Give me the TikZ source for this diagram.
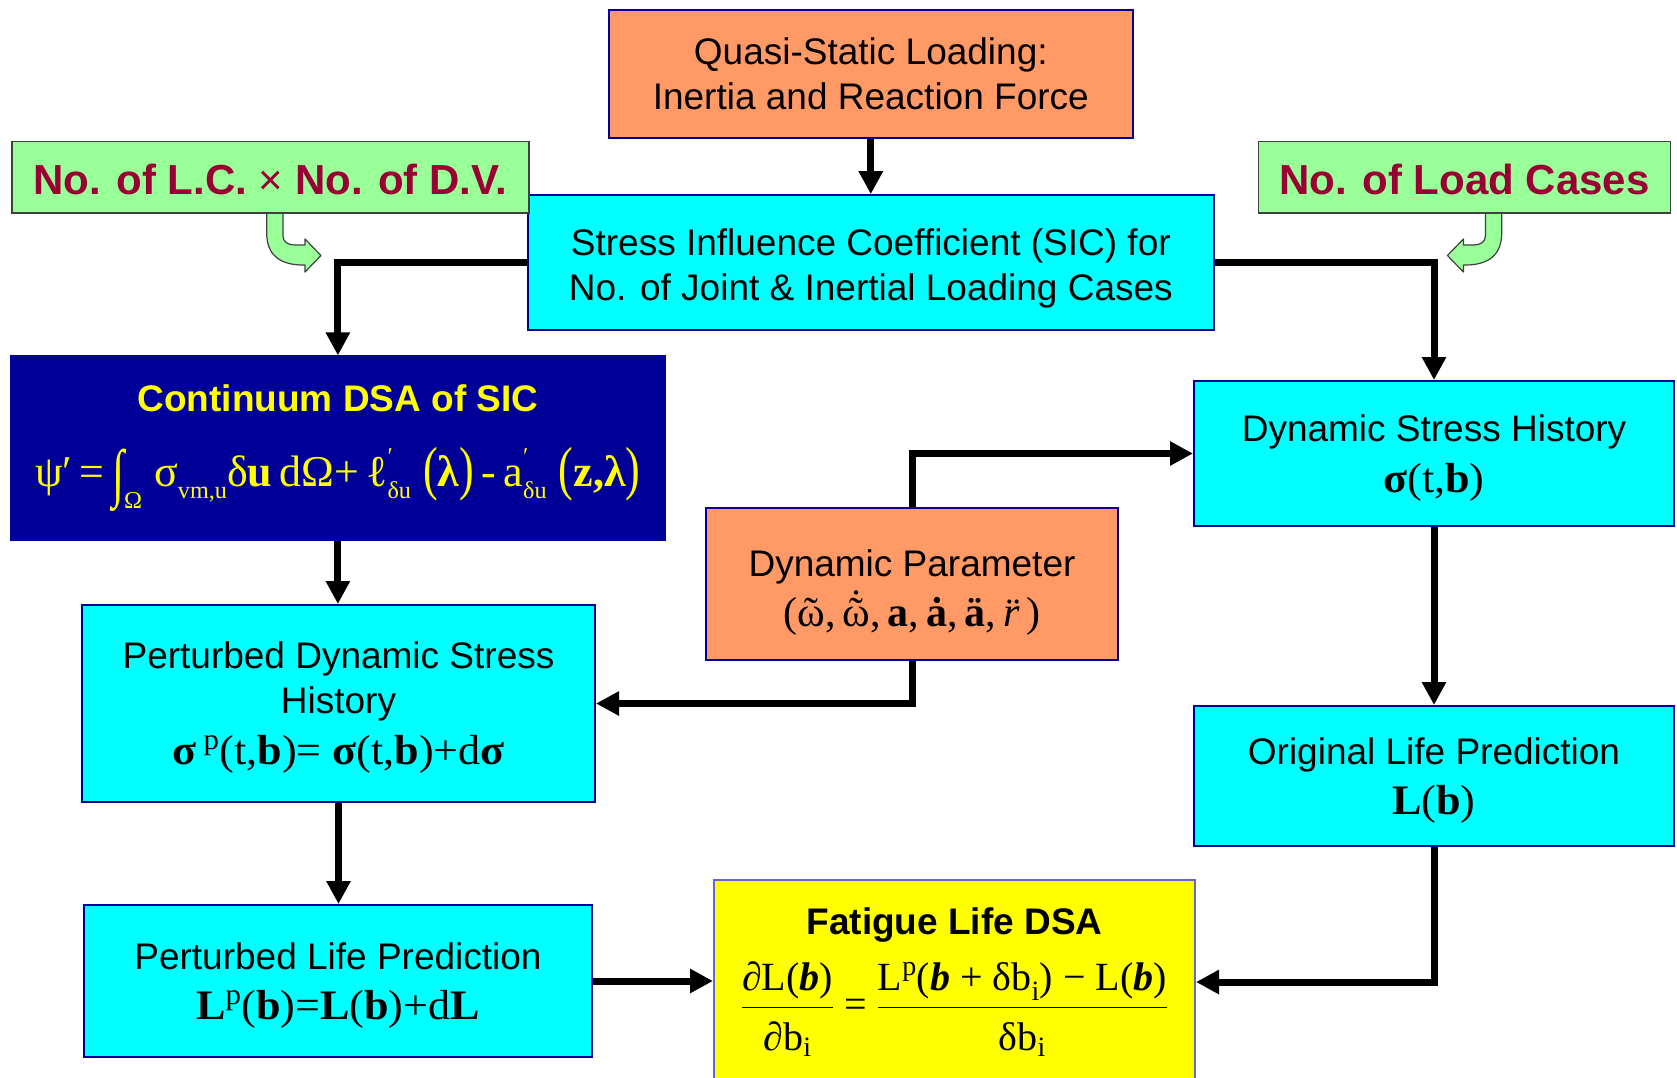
\documentclass[tikz,border=0pt]{standalone}
\usepackage{fix-cm}
\usepackage{amsmath}
\usepackage{graphicx}
\usepackage{fontspec}
\setmainfont{Liberation Serif}
\setsansfont{Liberation Sans}
\usetikzlibrary{arrows.meta}
\definecolor{orangeF}{HTML}{FF9966}
\definecolor{cyanF}{HTML}{00FFFF}
\definecolor{navyF}{HTML}{000099}
\definecolor{greenF}{HTML}{99FF99}
\definecolor{redT}{HTML}{990033}
\definecolor{yellowF}{HTML}{FFFF00}
\definecolor{borderB}{HTML}{000099}
\definecolor{borderL}{HTML}{6666CC}
\definecolor{grayE}{HTML}{404040}
\newcommand\fmA{\rmfamily\mdseries\fontsize{42}{48}\selectfont}
\newcommand\fmB{\rmfamily\mdseries\fontsize{40}{48}\selectfont}
\newcommand\fmC{\rmfamily\mdseries\fontsize{44}{50}\selectfont}
\newcommand\wideF[1]{\scalebox{1.05}[1]{#1}}
\newcommand\accOn[3][0pt]{\leavevmode\setbox0\hbox{#2}\rlap{\hbox to\wd0{\hss\raisebox{#1}{#3}\hss}}\box0}
\newcommand\subL[2][0.28em]{\raisebox{-#1}{\scalebox{0.55}{#2}}}
\newcommand\supH[2][0.5em]{\raisebox{#1}{\scalebox{0.55}{#2}}}
\newcommand\bigP[1]{\raisebox{-0.05em}{\scalebox{1}[1.35]{#1}}}
\tikzset{
  flowboxN/.style={draw=borderB, line width=2pt, inner sep=0pt, align=center,
    font=\sffamily\fontsize{37}{45}\selectfont},
  flowbox/.style={flowboxN, text depth=0pt},
  greentag/.style={fill=greenF, draw=grayE, line width=1.5pt, inner sep=0pt,
    text height=34pt, text depth=0pt,
    text=redT, font=\sffamily\bfseries\fontsize{42}{50}\selectfont},
  conn/.style={line width=7pt, line join=miter, -{Triangle[length=23pt,width=23pt]}},
  bentstyle/.style={fill=greenF, draw=grayE, line width=1.2pt, line join=round},
  bentarrow/.pic={\path[bentstyle] (0,0) -- (0,20) .. controls (0,42) and (13.3,52) .. (36.3,52)
      -- (38.3,52) -- (38.3,59) -- (54.3,42.5) -- (38.3,26) -- (38.3,32) -- (28.3,32)
      .. controls (21.3,32) and (16.3,29) .. (16.3,23) -- (16.3,0) -- cycle;}
}
\begin{document}
\begin{tikzpicture}[x=1pt,y=-1pt]
\path[fill=white,use as bounding box] (0,0) rectangle (1677,1077);
% bent green arrows
\pic at (266.7,213) {bentarrow};
\pic[xscale=-1] at (1501.7,213) {bentarrow};
% boxes
\node[flowbox, fill=orangeF, minimum width=524.5pt, minimum height=128.4pt] (quasi) at (870.8,73.8)
  {Quasi-Static Loading:\\Inertia and Reaction Force};
\node[flowbox, fill=cyanF, minimum width=685.5pt, minimum height=134.8pt] (sic) at (870.8,262.6)
  {\rule{0pt}{30pt}Stress Influence Coefficient (SIC) for\\No. of Joint \& Inertial Loading Cases};
\node[greentag, minimum width=517pt, minimum height=71.5pt] (nlcdv) at (270.4,177.3)
  {No. of L.C. {\mdseries ×} No. of D.V.};
\node[greentag, minimum width=412pt, minimum height=71.5pt] (nlc) at (1464.5,177.3)
  {No. of Load Cases};
\node[flowboxN, fill=navyF, text=yellowF, minimum width=654.3pt, minimum height=184pt] (cont) at (337.9,448.4)
  {\bfseries Continuum DSA of SIC\\[29.5pt]{\fmC ψ′\,=\,\raisebox{-0.2em}{\scalebox{1}[1.45]{∫}}\subL[0.5em]{Ω}\;σ\subL{vm,u}δ\textbf{u}\,dΩ+\,ℓ\rlap{\supH{′}}\subL{δu}\;\bigP{(}\textbf{λ}\bigP{)}\,-\,a\rlap{\supH{′}}\subL{δu}\;\bigP{(}\textbf{z,λ}\bigP{)}}};
\node[flowbox, fill=cyanF, minimum width=480pt, minimum height=145pt] (dsh) at (1434,453.5)
  {Dynamic Stress History\\[6.6pt]{\fmA\wideF{\textbf{σ}(t,\textbf{b})}}};
\node[flowbox, fill=orangeF, minimum width=412pt, minimum height=152pt] (dp) at (912,584)
  {\rule{0pt}{35pt}Dynamic Parameter\\[5pt]{\fmA (ῶ,\,\accOn[0.2em]{ῶ}{˙},\,\textbf{a},\,\textbf{ȧ},\,\textbf{ä},\,\accOn{\textit{r}}{\hspace{0.08em}¨}\,)}};
\node[flowbox, fill=cyanF, minimum width=513pt, minimum height=197pt] (pdsh) at (338.5,703.5)
  {Perturbed Dynamic Stress\\History\\[6pt]{\fmA\wideF{\textbf{σ}\,\textsuperscript{p}(t,\textbf{b})= \textbf{σ}(t,\textbf{b})+d\textbf{σ}}}};
\node[flowbox, fill=cyanF, minimum width=480pt, minimum height=140pt] (orig) at (1434,776)
  {Original Life Prediction\\[5pt]{\fmA\wideF{\textbf{L}(\textbf{b})}}};
\node[flowbox, fill=cyanF, minimum width=508pt, minimum height=152pt] (plp) at (338,981)
  {Perturbed Life Prediction\\[5pt]{\fmA\wideF{\textbf{L}\textsuperscript{p}(\textbf{b})=\textbf{L}(\textbf{b})+d\textbf{L}}}};
\node[flowboxN, draw=borderL, fill=yellowF, minimum width=481pt, minimum height=204pt] (fld) at (954.5,982)
  {\bfseries Fatigue Life DSA\\[18pt]{\fmB $\dfrac{\text{∂L(\textbf{\textit{b}})}}{\text{\rule{0pt}{0.98em}∂b}_{\text{i}}}\text{ = }\dfrac{\text{L}^{\text{p}}\text{(\textbf{\textit{b}} + δb}_{\text{i}}\text{) − L(\textbf{\textit{b}})}}{\text{\rule{0pt}{0.98em}δb}_{\text{i}}}$}};
% connectors
\draw[conn] (quasi.south) -- (sic.north);
\draw[conn] (sic.west) -| (cont.north);
\draw[conn] (sic.east) -| (dsh.north);
\draw[conn] (cont.south) -- (cont.south |- pdsh.north);
\draw[conn] (dp.north) |- (dsh.west);
\draw[conn] (dp.south) |- (pdsh.east);
\draw[conn] (dsh.south) -- (orig.north);
\draw[conn] (pdsh.south) -- (pdsh.south |- plp.north);
\draw[conn] (plp.east) -- (plp.east -| fld.west);
\draw[conn] (orig.south) |- (fld.east);
\end{tikzpicture}
\end{document}
